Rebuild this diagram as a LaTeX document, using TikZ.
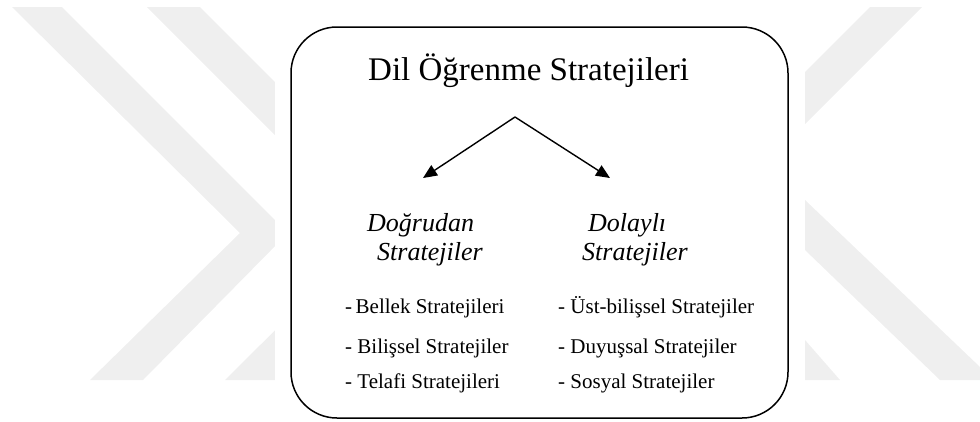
\documentclass[tikz,border=0pt]{standalone}
\usepackage{fontspec}
\setmainfont{Liberation Serif}
\usetikzlibrary{arrows.meta}
\definecolor{wm}{RGB}{239,239,239}
\begin{document}
\begin{tikzpicture}[x=1pt,y=-1pt,
  wmark/.style={fill=wm, draw=none},
  frame/.style={draw=black, line width=1.5pt, rounded corners=46pt, fill=white, inner sep=0pt},
  title/.style={inner sep=0pt, anchor=base west, font=\fontsize{33}{40}\selectfont},
  head/.style={inner sep=0pt, anchor=base west, font=\fontsize{26}{31}\selectfont\itshape},
  item/.style={inner sep=0pt, anchor=base west, font=\fontsize{21}{25}\selectfont},
  link/.style={line width=1.4pt, -{Triangle[length=14pt,width=12pt]}}
]
\useasboundingbox (0,0) rectangle (980,421);
% watermark
\fill[wmark] (12,7) -- (62,7) -- (288,233) -- (143,380) -- (90,380) -- (240,233) -- cycle;
\fill[wmark] (147,7) -- (200,7) -- (426,233) -- (278,380) -- (225,380) -- (373,233) -- cycle;
\fill[wmark] (870,7) -- (922,7) -- (805,124) -- (805,72) -- cycle;
\fill[wmark] (805,200) -- (980,367) -- (980,380) -- (940,380) -- (805,250) -- cycle;
\fill[wmark] (805,340) -- (840,380) -- (805,380) -- cycle;
\fill[white] (275,5) rectangle (805,382);
% frame
\draw[frame] (291,27) rectangle (788,418);
% texts
\node[title] (t) at (368,80) {Dil Öğrenme Stratejileri};
\node[head] (d1) at (367,231) {Doğrudan};
\node[head] (d2) at (377,260) {Stratejiler};
\node[head] (i1) at (588,231) {Dolaylı};
\node[head] (i2) at (582,260) {Stratejiler};
\node[item] (a1) at (345,313) {-\,Bellek Stratejileri};
\node[item] (a2) at (345,353) {- Bilişsel Stratejiler};
\node[item] (a3) at (345,388) {- Telafi Stratejileri};
\node[item] (b1) at (558,313) {- Üst-bilişsel Stratejiler};
\node[item] (b2) at (558,353) {- Duyuşsal Stratejiler};
\node[item] (b3) at (558,388) {- Sosyal Stratejiler};
% arrows
\coordinate (apex) at (515,117);
\coordinate (lt) at (423,178);
\coordinate (rt) at (610,178);
\draw[link] (apex) -- (lt);
\draw[link] (apex) -- (rt);
\end{tikzpicture}
\end{document}
